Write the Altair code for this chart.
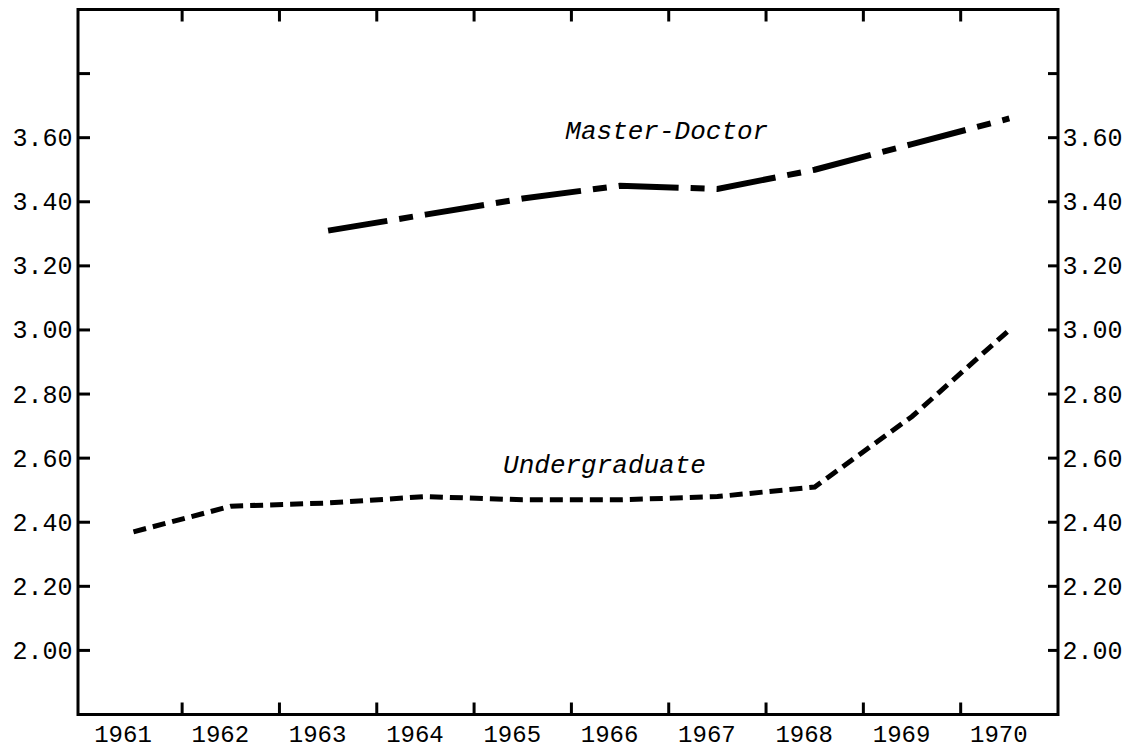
import altair as alt
import pandas as pd

# ---- data ----
years = [1961, 1962, 1963, 1964, 1965, 1966, 1967, 1968, 1969, 1970]
undergraduate = [2.37, 2.45, 2.46, 2.48, 2.47, 2.47, 2.48, 2.51, 2.73, 3.00]

master_years = [1963, 1964, 1965, 1966, 1967, 1968, 1969, 1970]
master_doctor = [3.31, 3.36, 3.41, 3.45, 3.44, 3.50, 3.58, 3.66]

x_tick_bounds = [1961.5, 1962.5, 1963.5, 1964.5, 1965.5, 1966.5, 1967.5, 1968.5, 1969.5]
y_ticks = [2.0, 2.2, 2.4, 2.6, 2.8, 3.0, 3.2, 3.4, 3.6, 3.8]
y_labels = [2.0, 2.2, 2.4, 2.6, 2.8, 3.0, 3.2, 3.4, 3.6]

note_text = ["Master-Doctor", "Undergraduate"]
note_year = [1966.48, 1965.84]
note_value = [3.595, 2.554]

# ---- layout ----
W, H = 980, 705
FONT = "Liberation Mono"

xs = alt.Scale(domain=[1960.43, 1970.5], nice=False, zero=False)
ys = alt.Scale(domain=[1.8, 4.0], nice=False, zero=False)

ug = pd.DataFrame({"year": years, "value": undergraduate})
md = pd.DataFrame({"year": master_years, "value": master_doctor})
xt = pd.DataFrame({"x": x_tick_bounds})
yt = pd.DataFrame({"y": y_ticks})
notes = pd.DataFrame({"year": note_year, "value": note_value, "text": note_text})

x_axis = alt.Axis(values=years, format="d", title=None, orient="bottom", ticks=False, tickSize=0,
                  domain=False, grid=False, labelFont=FONT, labelFontSize=24,
                  labelPadding=8, labelOffset=-11, labelColor="black",
                  labelOverlap=False, labelFlush=False)
y_left = alt.Axis(values=y_labels, format=".2f", orient="left", title=None, ticks=False,
                  tickSize=0, domain=False, grid=False, labelFont=FONT, labelFontSize=25,
                  labelPadding=6, labelColor="black")
y_right = alt.Axis(values=y_labels, format=".2f", orient="right", title=None, ticks=False,
                   tickSize=0, domain=False, grid=False, labelFont=FONT, labelFontSize=25,
                   labelPadding=4, labelColor="black")

l_ug = alt.Chart(ug).mark_line(color="black", strokeWidth=5, strokeDash=[13, 7]).encode(
    x=alt.X("year:Q", scale=xs, axis=x_axis, title=None),
    y=alt.Y("value:Q", scale=ys, axis=y_left),
)
l_md = alt.Chart(md).mark_line(color="black", strokeWidth=6, strokeDash=[60, 12, 14, 12]).encode(
    x=alt.X("year:Q", scale=xs, axis=x_axis, title=None),
    y=alt.Y("value:Q", scale=ys, axis=None),
)

t_left = alt.Chart(yt).mark_rule(color="black", strokeWidth=3).encode(
    x=alt.value(0), x2=alt.value(12),
    y=alt.Y("y:Q", scale=ys, axis=None),
)
t_right = alt.Chart(yt).mark_rule(color="black", strokeWidth=3).encode(
    x=alt.value(W), x2=alt.value(W - 10),
    y=alt.Y("y:Q", scale=ys, axis=y_right),
)
t_bottom = alt.Chart(xt).mark_rule(color="black", strokeWidth=3).encode(
    x=alt.X("x:Q", scale=xs, axis=x_axis, title=None),
    y=alt.value(H), y2=alt.value(H - 12),
)
t_top = alt.Chart(xt).mark_rule(color="black", strokeWidth=3).encode(
    x=alt.X("x:Q", scale=xs, axis=x_axis, title=None),
    y=alt.value(0), y2=alt.value(12),
)

t_notes = alt.Chart(notes).mark_text(
    font=FONT, fontSize=26, fontStyle="italic", align="center",
    baseline="alphabetic", color="black"
).encode(
    x=alt.X("year:Q", scale=xs, axis=x_axis, title=None),
    y=alt.Y("value:Q", scale=ys, axis=None),
    text="text:N",
)

chart = alt.layer(l_ug, l_md, t_left, t_right, t_bottom, t_top, t_notes).resolve_scale(
    y="independent"
).properties(
    width=W, height=H,
    autosize=alt.AutoSizeParams(type="none"),
    padding={"left": 70, "top": 1.5, "right": 68, "bottom": 33.5},
    background="white",
).configure_view(stroke="black", strokeWidth=3)

chart.save("out.html", embed_options={"renderer": "svg", "actions": False})
